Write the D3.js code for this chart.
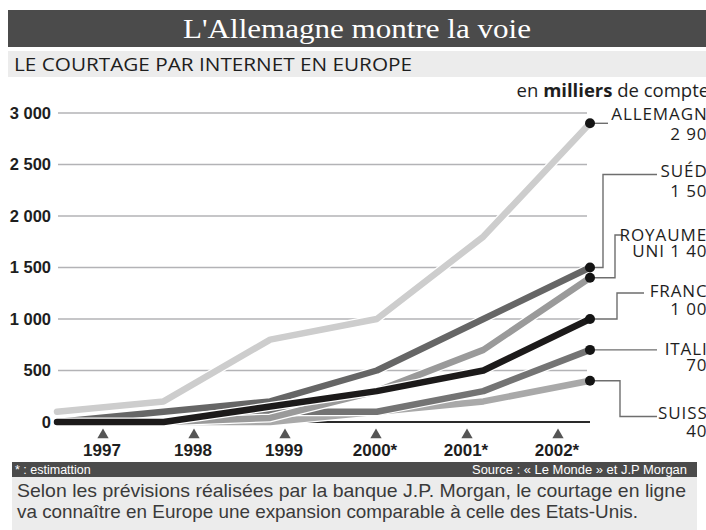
<!DOCTYPE html>
<html><head><meta charset="utf-8">
<script src="https://cdn.jsdelivr.net/npm/d3@7"></script>
<style>
html,body{margin:0;padding:0;background:#fff;overflow:hidden}
svg{display:block}
</style></head>
<body>
<svg id="c" width="706" height="530"></svg>
<script>
// ---- data ----
const years = ["1997", "1998", "1999", "2000", "2001", "2002"];
const yearLabels = ["1997", "1998", "1999", "2000*", "2001*", "2002*"];
const yTicks = [0, 500, 1000, 1500, 2000, 2500, 3000];
const yTickLabels = ["0", "500", "1 000", "1 500", "2 000", "2 500", "3 000"];
const countries = ["ALLEMAGNE", "SUISSE", "ITALIE", "ROYAUME-UNI", "SUÉDE", "FRANCE"];
const allemagne = [100, 200, 800, 1000, 1800, 2900];
const suisse    = [0, 0, 0, 100, 200, 400];
const italie    = [0, 0, 100, 100, 300, 700];
const royaumeUni= [0, 0, 40, 300, 700, 1400];
const suede     = [0, 100, 200, 500, 1000, 1500];
const france    = [0, 0, 150, 300, 500, 1000];
const labelLine1 = ["ALLEMAGNE", "SUISSE", "ITALIE", "ROYAUME", "SUÉDE", "FRANCE"];
const labelLine2 = ["2 900", "400", "700", "UNI 1 400", "1 500", "1 000"];

const seriesValues = [allemagne, suisse, italie, royaumeUni, suede, france];
const colors = ["#cdcdcd", "#a9a9a9", "#747474", "#9a9a9a", "#666666", "#1c1a1a"];

// ---- layout ----
const svg = d3.select("#c");
const x = d3.scalePoint().domain(years).range([57, 590]);
const xLab = d3.scalePoint().domain(years).range([103, 558]);
const y = d3.scaleLinear().domain([0, 3000]).range([422, 113]);

// title bar
svg.append("rect").attr("x", 8).attr("y", 10).attr("width", 698).attr("height", 37).attr("fill", "#4b4b4b");
svg.append("text").attr("x", 357).attr("y", 38).attr("text-anchor", "middle")
  .attr("font-family", "Liberation Serif, DejaVu Serif, serif").attr("font-size", 28).attr("fill", "#fff")
  .attr("textLength", 348).attr("lengthAdjust", "spacingAndGlyphs")
  .text("L'Allemagne montre la voie");

// subtitle bar
svg.append("rect").attr("x", 8).attr("y", 51).attr("width", 698).attr("height", 26).attr("fill", "#ececec");
svg.append("text").attr("x", 14).attr("y", 71)
  .attr("font-family", "Open Sans, sans-serif").attr("font-size", 19).attr("fill", "#1e1e1e")
  .attr("textLength", 398).attr("lengthAdjust", "spacingAndGlyphs")
  .text("LE COURTAGE PAR INTERNET EN EUROPE");

// unit
const unit = svg.append("text").attr("x", 718).attr("y", 97).attr("text-anchor", "end")
  .attr("font-family", "Open Sans, sans-serif").attr("font-size", 18.5).attr("fill", "#1e1e1e");
unit.append("tspan").text("en ");
unit.append("tspan").attr("font-weight", "bold").text("milliers");
unit.append("tspan").text(" de comptes");

// gridlines
const gridVals = yTicks.filter(d => d > 0);
svg.append("g").selectAll("line").data(gridVals).join("line")
  .attr("x1", 58).attr("x2", 587)
  .attr("y1", d => y(d)).attr("y2", d => y(d))
  .attr("stroke", "#b3b3b6").attr("stroke-width", 1.6);

// y labels
svg.append("g").selectAll("text").data(yTicks).join("text")
  .attr("x", 51).attr("y", d => y(d) + 5.5).attr("text-anchor", "end")
  .attr("font-family", "Liberation Sans, Arial, sans-serif").attr("font-weight", "bold")
  .attr("font-size", 16.5).attr("fill", "#1e1e1e")
  .text((d, i) => yTickLabels[i]);

// baseline axis
svg.append("line").attr("x1", 58).attr("x2", 590).attr("y1", y(0)).attr("y2", y(0))
  .attr("stroke", "#2a2a2a").attr("stroke-width", 2);

// lines
const line = d3.line().x((d, i) => x(years[i])).y(d => y(d));
const gl = svg.append("g");
seriesValues.forEach((vals, k) => {
  gl.append("path").attr("d", line(vals)).attr("fill", "none")
    .attr("stroke", "#fff").attr("stroke-width", 9).attr("stroke-linejoin", "round").attr("stroke-linecap", "round");
  gl.append("path").attr("d", line(vals)).attr("fill", "none")
    .attr("stroke", colors[k]).attr("stroke-width", 6.5).attr("stroke-linejoin", "round").attr("stroke-linecap", "round");
});

// leader lines
const last = years[years.length - 1];
const leaders = {
  "ALLEMAGNE": {bx: null, ty: null, ex: 608},
  "SUÉDE": {bx: 603, ty: 174.5, ex: 657},
  "ROYAUME-UNI": {bx: 615, ty: 235, ex: 623},
  "FRANCE": {bx: 617, ty: 293, ex: 644},
  "ITALIE": {bx: null, ty: null, ex: 657},
  "SUISSE": {bx: 620, ty: 416.5, ex: 657}
};
const labelBase = {
  "ALLEMAGNE": [120, 139.5], "SUÉDE": [177, 197], "ROYAUME-UNI": [240.5, 257],
  "FRANCE": [297, 315], "ITALIE": [355, 370.5], "SUISSE": [418.5, 437]
};
const gLead = svg.append("g");
countries.forEach((c, k) => {
  const vals = seriesValues[k];
  const px = x(last), py = y(vals[vals.length - 1]);
  const L = leaders[c];
  let pts;
  if (L.bx === null) pts = [[px, py], [L.ex, py]];
  else pts = [[px, py], [L.bx, py], [L.bx, L.ty], [L.ex, L.ty]];
  gLead.append("path").attr("d", d3.line()(pts)).attr("fill", "none")
    .attr("stroke", "#6e6e6e").attr("stroke-width", 1.4);
  gLead.append("circle").attr("cx", px).attr("cy", py).attr("r", 5).attr("fill", "#141414");
  const t = gLead.append("text").attr("text-anchor", "end")
    .attr("font-family", "Open Sans, sans-serif").attr("font-size", 17).attr("fill", "#1e1e1e")
    .attr("letter-spacing", 0.9);
  t.append("tspan").attr("x", c === "ROYAUME-UNI" ? 707 : 718).attr("y", labelBase[c][0]).text(labelLine1[k]);
  t.append("tspan").attr("x", 718).attr("y", labelBase[c][1]).text(labelLine2[k]);
});

// x ticks (triangles) and labels
const tri = d3.symbol().type(d3.symbolTriangle).size(55);
svg.append("g").selectAll("path").data(years).join("path")
  .attr("d", tri).attr("transform", d => `translate(${xLab(d)},435)`).attr("fill", "#555");
svg.append("g").selectAll("text").data(years).join("text")
  .attr("x", d => xLab(d) - 1).attr("y", 456).attr("text-anchor", "middle")
  .attr("font-family", "Liberation Sans, Arial, sans-serif").attr("font-weight", "bold")
  .attr("font-size", 17).attr("fill", "#1e1e1e")
  .text((d, i) => yearLabels[i]);

// footer bar
svg.append("rect").attr("x", 12).attr("y", 462).attr("width", 685).attr("height", 15).attr("fill", "#4b4b4b");
svg.append("text").attr("x", 15).attr("y", 474)
  .attr("font-family", "Liberation Sans, Arial, sans-serif").attr("font-size", 12.5).attr("fill", "#fff")
  .text("* : estimattion");
svg.append("text").attr("x", 687).attr("y", 474).attr("text-anchor", "end")
  .attr("font-family", "Liberation Sans, Arial, sans-serif").attr("font-size", 12.5).attr("fill", "#fff")
  .attr("textLength", 215).attr("lengthAdjust", "spacingAndGlyphs")
  .text("Source : « Le Monde » et J.P Morgan");

// commentary box
svg.append("rect").attr("x", 12).attr("y", 477).attr("width", 685).attr("height", 53).attr("fill", "#ececec");
svg.append("text").attr("x", 17).attr("y", 497)
  .attr("font-family", "Liberation Sans, Arial, sans-serif").attr("font-size", 19).attr("fill", "#3a3a3a")
  .attr("textLength", 669).attr("lengthAdjust", "spacingAndGlyphs")
  .text("Selon les prévisions réalisées par la banque J.P. Morgan, le courtage en ligne");
svg.append("text").attr("x", 17).attr("y", 518)
  .attr("font-family", "Liberation Sans, Arial, sans-serif").attr("font-size", 19).attr("fill", "#3a3a3a")
  .attr("textLength", 621).attr("lengthAdjust", "spacingAndGlyphs")
  .text("va connaître en Europe une expansion comparable à celle des Etats-Unis.");
</script>
</body></html>
